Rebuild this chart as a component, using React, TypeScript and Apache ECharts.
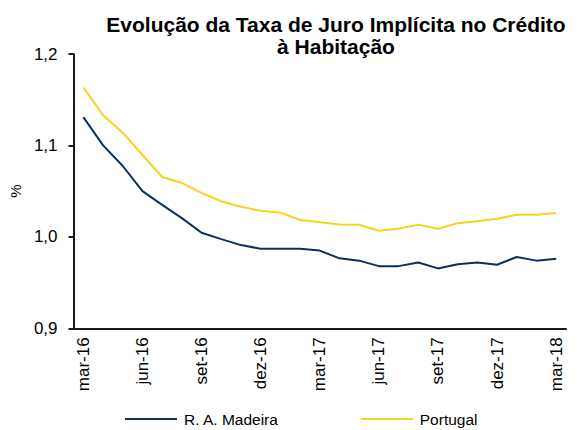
import React, { useEffect, useRef } from "react";
import * as echarts from "echarts";

const categories = [
  "mar-16", "abr-16", "mai-16", "jun-16", "jul-16", "ago-16", "set-16", "out-16", "nov-16", "dez-16",
  "jan-17", "fev-17", "mar-17", "abr-17", "mai-17", "jun-17", "jul-17", "ago-17", "set-17", "out-17",
  "nov-17", "dez-17", "jan-18", "fev-18", "mar-18",
];

const madeira = [
  1.131, 1.1, 1.0775, 1.05, 1.035, 1.0205, 1.0045, 0.9975, 0.991, 0.987,
  0.987, 0.987, 0.985, 0.9765, 0.974, 0.968, 0.968, 0.972, 0.9655, 0.97,
  0.972, 0.9695, 0.978, 0.974, 0.976,
];

const portugal = [
  1.1635, 1.133, 1.114, 1.0895, 1.0655, 1.059, 1.048, 1.039, 1.033, 1.0285,
  1.0265, 1.0185, 1.016, 1.0135, 1.0133, 1.0067, 1.009, 1.0133, 1.0088, 1.015,
  1.0172, 1.0198, 1.0242, 1.0242, 1.026,
];

const titleText = "Evolução da Taxa de Juro Implícita no Crédito\nà Habitação";
const yAxisName = "%";
const seriesNames = ["R. A. Madeira", "Portugal"];

const FONT = "'Liberation Sans', Arial, sans-serif";

export default function App() {
  const ref = useRef<HTMLDivElement>(null);

  useEffect(() => {
    if (!ref.current) return;
    const chart = echarts.init(ref.current, undefined, { renderer: "svg" });
    chart.setOption({
      animation: false,
      backgroundColor: "#ffffff",
      textStyle: { fontFamily: FONT },
      title: {
        text: titleText,
        left: 336,
        top: 13,
        textAlign: "center",
        padding: 0,
        textStyle: {
          fontFamily: FONT,
          fontSize: 21,
          fontWeight: "bold",
          color: "#000000",
          lineHeight: 22,
        },
      },
      legend: {
        left: 125,
        top: 411,
        padding: 0,
        itemWidth: 52,
        itemHeight: 2,
        itemGap: 82,
        icon: "rect",
        data: seriesNames,
        textStyle: { fontFamily: FONT, fontSize: 15.5, color: "#000000", padding: [0, 0, 0, 2] },
      },
      grid: { left: 69.5, right: 11, top: 54, bottom: 101.7, containLabel: false },
      xAxis: {
        type: "category",
        data: categories,
        boundaryGap: true,
        axisLine: { lineStyle: { color: "#1a1a1a", width: 2 } },
        axisTick: { interval: 2, length: 5, lineStyle: { color: "#1a1a1a", width: 2 } },
        axisLabel: {
          interval: 2,
          rotate: 90,
          fontFamily: FONT,
          fontSize: 17,
          color: "#000000",
          margin: 9,
        },
        splitLine: { show: false },
      },
      yAxis: {
        type: "value",
        min: 0.9,
        max: 1.2,
        interval: 0.1,
        name: yAxisName,
        nameLocation: "middle",
        nameRotate: 90,
        nameGap: 50,
        nameTextStyle: { fontFamily: FONT, fontSize: 15, color: "#000000" },
        axisLine: { show: true, lineStyle: { color: "#1a1a1a", width: 2 } },
        axisTick: { show: true, length: 5, lineStyle: { color: "#1a1a1a", width: 2 } },
        axisLabel: {
          fontFamily: FONT,
          fontSize: 17,
          color: "#000000",
          margin: 16,
          formatter: (v: number) => v.toFixed(1).replace(".", ","),
        },
        splitLine: { show: false },
      },
      series: [
        {
          name: seriesNames[0],
          type: "line",
          data: madeira,
          symbol: "none",
          lineStyle: { color: "#0b2f5e", width: 2 },
          itemStyle: { color: "#0b2f5e" },
        },
        {
          name: seriesNames[1],
          type: "line",
          data: portugal,
          symbol: "none",
          lineStyle: { color: "#f7d31c", width: 2 },
          itemStyle: { color: "#f7d31c" },
        },
      ],
    });
    return () => chart.dispose();
  }, []);

  return (
    <div
      ref={ref}
      style={{ position: "absolute", left: 0, top: 0, width: 577, height: 430 }}
    />
  );
}
